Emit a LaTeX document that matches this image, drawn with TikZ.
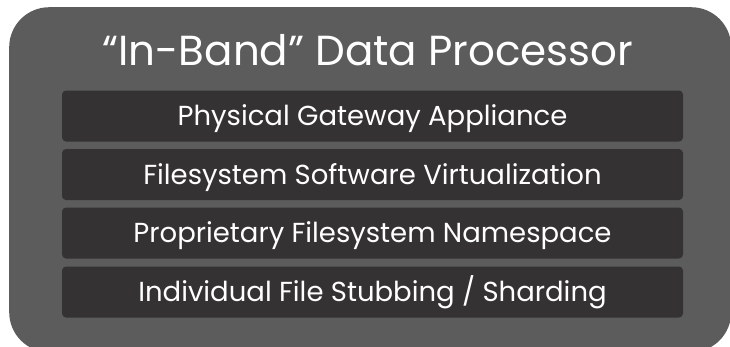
\documentclass[tikz,border=0pt]{standalone}
\usepackage{fontspec}
\setmainfont{Poppins}
\definecolor{outergray}{HTML}{5D5C5D}
\definecolor{bardark}{HTML}{353233}

\begin{document}
\begin{tikzpicture}[x=1pt,y=-1pt,
	layer/.style={fill=bardark,rounded corners=4pt,minimum width=621pt,minimum height=51pt,inner sep=0pt,text=white,text height=19.5pt,text depth=0pt,font=\fontsize{27.5}{30}\selectfont}]
			% Processor stack
			\useasboundingbox (0,0) rectangle (730,346);
			\begin{scope}
			\clip (0,0) rectangle (730,346);
			\node[fill=outergray,rounded corners=40pt,minimum width=722pt,minimum height=345pt,inner sep=0pt,anchor=north west] (Processor) at (9,7) {};
			\end{scope}
			\node[text=white,text height=29.5pt,text depth=0pt,font=\fontsize{42}{46}\selectfont] (Title) at (368,51) {“In-Band” Data Processor};
			\node[layer] (Gateway) at (372.5,116) {Physical Gateway Appliance};
			\node[layer] (Virtualization) at (372.5,174.5) {Filesystem Software Virtualization};
			\node[layer] (Namespace) at (372.5,233) {Proprietary Filesystem Namespace};
			\node[layer] (Stubbing) at (372.5,292) {Individual File Stubbing / Sharding};
\end{tikzpicture}
\end{document}
